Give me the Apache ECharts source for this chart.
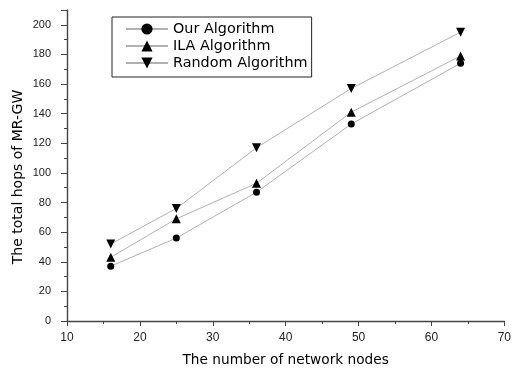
<!DOCTYPE html>
<html><head><meta charset="utf-8">
<script src="https://cdn.jsdelivr.net/npm/echarts@6/dist/echarts.min.js"></script>
<style>html,body{margin:0;padding:0;background:#fff}#c{width:514px;height:374px}</style>
</head><body><div id="c"></div>
<script>
const nodes = [16, 25, 36, 49, 64];
const ourAlg = [37, 56, 87, 133, 174];
const ilaAlg = [43, 69, 93, 141, 179];
const randomAlg = [52, 76, 117, 157, 195];
const seriesNames = ['Our Algorithm', 'ILA Algorithm', 'Random Algorithm'];
const xTitle = 'The number of network nodes';
const yTitle = 'The total hops of MR-GW';

const font = 'Liberation Sans, Arial, sans-serif';
const wideFont = 'DejaVu Sans, Verdana, sans-serif';
const chart = echarts.init(document.getElementById('c'), null, {renderer: 'canvas'});
function mk(name, vals, symbol, rot) {
  return {
    name, type: 'line',
    data: nodes.map((x, i) => [x, vals[i]]),
    symbol, symbolSize: symbol === 'circle' ? 7 : 9, symbolRotate: rot,
    showAllSymbol: true,
    lineStyle: {color: '#b0b0b0', width: 1},
    itemStyle: {color: '#000'},
    emphasis: {disabled: true},
    animation: false
  };
}
chart.setOption({
  animation: false,
  grid: {left: 67, right: 8, top: 10, bottom: 53},
  legend: {
    left: 112, top: 17,
    orient: 'vertical',
    padding: [5, 4, 7, 13],
    itemGap: 3, itemWidth: 42, itemHeight: 14,
    borderColor: '#222', borderWidth: 1,
    textStyle: {fontFamily: wideFont, fontSize: 14.4, color: '#000'},
    data: seriesNames
  },
  graphic: [{
    type: 'text', x: 18, y: 177, rotation: Math.PI / 2,
    style: {text: yTitle, fontFamily: wideFont, fontSize: 14, fill: '#000',
      align: 'center', verticalAlign: 'middle'}
  }],
  xAxis: {
    type: 'value', min: 10, max: 70, interval: 10,
    name: xTitle, nameLocation: 'middle', nameGap: 32,
    nameTextStyle: {fontFamily: wideFont, fontSize: 13.7, color: '#000'},
    axisLine: {lineStyle: {color: '#444', width: 1.4}},
    axisTick: {show: true, inside: false, length: 5, lineStyle: {color: '#444'}},
    minorTick: {show: true, splitNumber: 2, length: 3, lineStyle: {color: '#444'}},
    splitLine: {show: false},
    axisLabel: {fontFamily: font, fontSize: 12, color: '#222', margin: 11}
  },
  yAxis: {
    type: 'value', min: 0, max: 210, interval: 20,
    axisLine: {show: true, lineStyle: {color: '#444', width: 1.4}},
    axisTick: {show: true, inside: false, length: 6, lineStyle: {color: '#444'}},
    minorTick: {show: true, splitNumber: 2, length: 3, lineStyle: {color: '#444'}},
    splitLine: {show: false},
    axisLabel: {fontFamily: font, fontSize: 11, color: '#222', margin: 16,
      showMaxLabel: false,
      formatter: v => (Math.round(v) % 20 === 0 ? String(Math.round(v)) : '')}
  },
  series: [
    mk(seriesNames[0], ourAlg, 'circle', 0),
    mk(seriesNames[1], ilaAlg, 'triangle', 0),
    mk(seriesNames[2], randomAlg, 'triangle', 180)
  ]
});
</script></body></html>
